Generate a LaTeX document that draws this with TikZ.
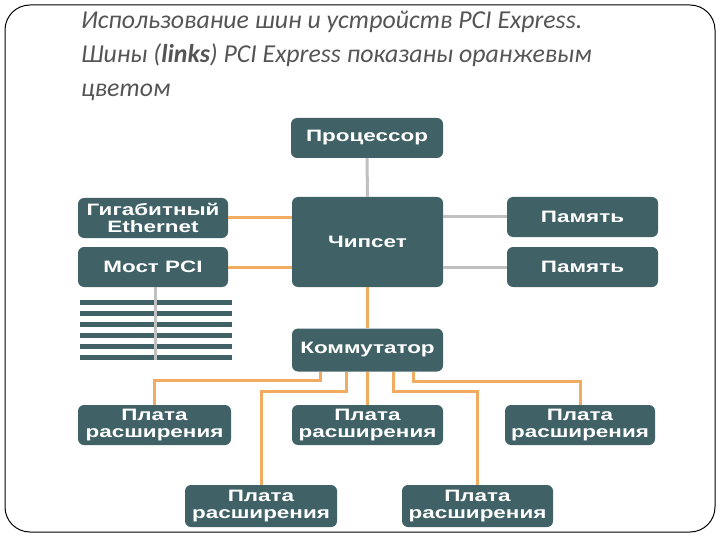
\documentclass[tikz,border=0pt]{standalone}
\usepackage{fontspec}
\newfontfamily\boxfont[FakeStretch=1.36]{Liberation Sans}
\newfontfamily\titlefont{Carlito}
\definecolor{boxfill}{RGB}{64,98,102}
\definecolor{orangeline}{RGB}{242,172,98}
\definecolor{grayline}{RGB}{192,192,192}
\definecolor{titlegray}{RGB}{85,85,85}
\tikzset{
  blk/.style={fill=boxfill, rounded corners=6pt, text=white, align=center, inner sep=0pt,
    font=\boxfont\bfseries\fontsize{16.5}{17}\selectfont},
  pcie/.style={draw=orangeline, line width=3pt},
  oldbus/.style={draw=grayline, line width=3pt},
  stripe/.style={draw=boxfill, line width=5pt}
}
\begin{document}
\begin{tikzpicture}[x=1pt,y=-1pt]
\useasboundingbox (0,0) rectangle (720,540);
\draw[black, line width=1pt, rounded corners=25pt] (5,5) rectangle (715,532);

\node[anchor=north west, align=left, inner sep=0pt, text=titlegray,
  font=\titlefont\itshape\fontsize{25.8}{34}\selectfont] (title) at (81,11)
  {Использование шин и устройств PCI Express.\\
   Шины (\textbf{links}) PCI Express показаны оранжевым\\
   цветом};

% nodes
\node[blk, minimum width=152pt, minimum height=40pt] (proc) at (367,138) {Процессор};
\node[blk, minimum width=151pt, minimum height=90pt] (chip) at (367.5,242) {Чипсет};
\node[blk, minimum width=150pt, minimum height=40pt] (eth) at (153,218) {Гигабитный\\Ethernet};
\node[blk, minimum width=150pt, minimum height=40pt] (most) at (153,267) {Мост PCI};
\node[blk, minimum width=151pt, minimum height=40pt] (mem1) at (582.5,217) {Память};
\node[blk, minimum width=151pt, minimum height=40pt] (mem2) at (582.5,267) {Память};
\node[blk, minimum width=151pt, minimum height=43pt] (komm) at (367.5,350) {Коммутатор};
\node[blk, minimum width=153pt, minimum height=40pt] (p1) at (154.5,425) {Плата\\расширения};
\node[blk, minimum width=151pt, minimum height=40pt] (p2) at (367.5,425) {Плата\\расширения};
\node[blk, minimum width=150pt, minimum height=40pt] (p3) at (580,425) {Плата\\расширения};
\node[blk, minimum width=152pt, minimum height=42pt] (p4) at (261,506) {Плата\\расширения};
\node[blk, minimum width=151pt, minimum height=42pt] (p5) at (477.5,506) {Плата\\расширения};

% PCI bus stripes
\foreach \yy in {302,313,324,335,346,357}
  \draw[stripe] (80,\yy) -- (232,\yy);
\coordinate (pciend) at (155,360);
\draw[oldbus] (most.south -| pciend) -- (pciend);

% connectors
\draw[oldbus] (proc.south) -- (chip.north);
\draw[oldbus] (chip.east |- mem1) -- (mem1.west);
\draw[oldbus] (chip.east |- mem2) -- (mem2.west);
\draw[pcie] (eth.east) -- (eth.east -| chip.west);
\draw[pcie] (most.east) -- (most.east -| chip.west);
\draw[pcie] (chip.south) -- (komm.north);
\draw[pcie] ([xshift=-47.5pt]komm.south) -- ++(0,9) -| (p1.north);
\draw[pcie] ([xshift=-21.5pt]komm.south) -- ++(0,20) -| (p4.north);
\draw[pcie] (komm.south) -- (p2.north);
\draw[pcie] ([xshift=25.5pt]komm.south) -- ++(0,20) -| (p5.north);
\draw[pcie] ([xshift=45.5pt]komm.south) -- ++(0,10) -| (p3.north);
\end{tikzpicture}
\end{document}
